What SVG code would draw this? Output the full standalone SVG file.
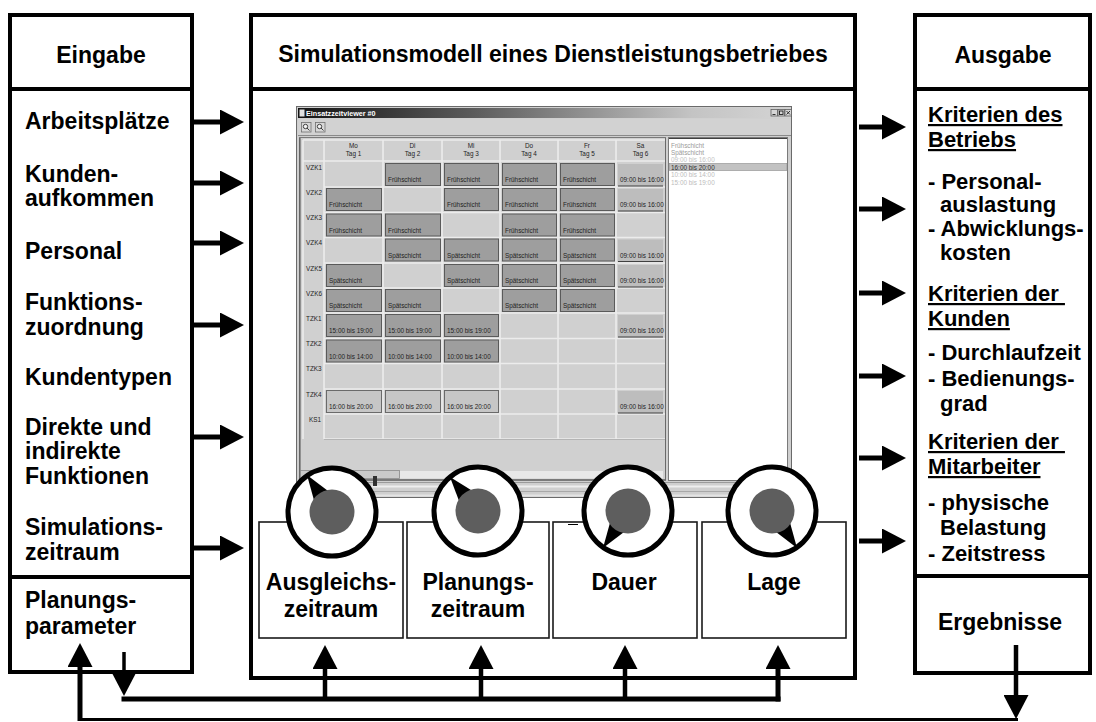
<svg xmlns="http://www.w3.org/2000/svg" width="1096" height="722" viewBox="0 0 1096 722">
  <style>
    .t { font-family: "Liberation Sans", Arial, sans-serif; font-weight: bold; font-size: 23px; fill: #000; }
    .r { font-size: 22px; }
    .c { text-anchor: middle; }
    .u { text-decoration: underline; }
    .frame { fill: #fff; stroke: #000; stroke-width: 4; }
    .sep { stroke: #000; stroke-width: 4; }
    .pbox { fill: #fff; stroke: #1a1a1a; stroke-width: 1.6; }
    .ring { fill: #fff; stroke: #000; stroke-width: 5; }
    .hub { fill: #5e5e5e; }
    .ptr { fill: #000; }
    .conn { stroke: #000; stroke-width: 5; fill: none; }
    .s { font-family: "Liberation Sans", Arial, sans-serif; font-size: 6.4px; fill: #1e1e1e; }
    .hdr { text-anchor: middle; }
    .btn { fill: #9e9e9e; stroke: #5a5a5a; stroke-width: 1; }
    .btnl { fill: #bdbdbd; }
    .btnm { fill: #c6c6c6; stroke: #6a6a6a; stroke-width: 1; }
    .edge { stroke: #404040; stroke-width: 1.2; }
    .gl { stroke: #ececec; stroke-width: 1.6; }
    .li { font-family: "Liberation Sans", Arial, sans-serif; font-size: 6.4px; fill: #a8a8a8; }
  </style>
  <defs>
    <marker id="ah" markerUnits="userSpaceOnUse" markerWidth="24" markerHeight="25" viewBox="0 0 24 25" refX="0" refY="12.5" orient="auto">
      <path d="M0,0 L24,12.5 L0,25 z" fill="#000"/>
    </marker>
    <linearGradient id="titlebar" x1="0" y1="0" x2="1" y2="0">
      <stop offset="0" stop-color="#141414"/>
      <stop offset="0.35" stop-color="#5a5a5a"/>
      <stop offset="0.8" stop-color="#c4c4c4"/>
      <stop offset="1" stop-color="#d4d4d4"/>
    </linearGradient>
  </defs>

  <rect width="1096" height="722" fill="#fff"/>

  <!-- Input column -->
  <g id="eingabe">
    <rect class="frame" x="10" y="15" width="182" height="657"/>
    <line class="sep" x1="10" y1="89" x2="192" y2="89"/>
    <line class="sep" x1="10" y1="577" x2="192" y2="577"/>
    <text class="t c" x="101" y="63">Eingabe</text>
    <text class="t" x="25" y="129">Arbeitsplätze</text>
    <text class="t" x="25" y="182">Kunden-</text>
    <text class="t" x="25" y="206">aufkommen</text>
    <text class="t" x="25" y="259">Personal</text>
    <text class="t" x="25" y="310">Funktions-</text>
    <text class="t" x="25" y="335">zuordnung</text>
    <text class="t" x="25" y="385">Kundentypen</text>
    <text class="t" x="25" y="435">Direkte und</text>
    <text class="t" x="25" y="459">indirekte</text>
    <text class="t" x="25" y="484">Funktionen</text>
    <text class="t" x="25" y="535">Simulations-</text>
    <text class="t" x="25" y="560">zeitraum</text>
    <text class="t" x="25" y="608">Planungs-</text>
    <text class="t" x="25" y="634">parameter</text>
  </g>

  <!-- Simulation model -->
  <g id="modell">
    <rect class="frame" x="251" y="15" width="604" height="663"/>
    <line class="sep" x1="251" y1="89" x2="855" y2="89"/>
    <text class="t c" x="553" y="62">Simulationsmodell eines Dienstleistungsbetriebes</text>
  </g>

  <!-- Schedule viewer window -->
  <g id="viewer">
    <rect x="296.5" y="106.5" width="495" height="391" fill="#cfcfcf" stroke="#6a6a6a"/>
    <rect x="298" y="108" width="493" height="10" fill="url(#titlebar)"/>
    <rect x="299.5" y="109.5" width="5" height="7" fill="#e0e0e0"/>
    <text x="306" y="116" font-family="Liberation Sans, Arial, sans-serif" font-weight="bold" font-size="7.2" fill="#fff">Einsatzzeitviewer #0</text>
    <!-- title buttons -->
    <g fill="#d6d6d6" stroke="#606060" stroke-width="0.8">
      <rect x="771" y="109.5" width="6.5" height="6.5"/>
      <rect x="778" y="109.5" width="6.5" height="6.5"/>
      <rect x="785" y="109.5" width="6.5" height="6.5"/>
    </g>
    <g stroke="#202020" stroke-width="0.9" fill="none">
      <line x1="772.5" y1="114.5" x2="775.5" y2="114.5"/>
      <rect x="779.5" y="111" width="3.5" height="3.5"/>
      <line x1="786.5" y1="111" x2="790" y2="114.5"/>
      <line x1="790" y1="111" x2="786.5" y2="114.5"/>
    </g>
    <!-- toolbar -->
    <rect x="298" y="118.5" width="493" height="17" fill="#d2d2d2"/>
    <line x1="298" y1="135.5" x2="791" y2="135.5" stroke="#8a8a8a"/>
    <g fill="#d8d8d8" stroke="#707070" stroke-width="0.8">
      <rect x="301.5" y="122.5" width="9.5" height="9.5"/>
      <rect x="315.5" y="122.5" width="9.5" height="9.5"/>
    </g>
    <g stroke="#303030" stroke-width="0.9" fill="#f4f4f4">
      <circle cx="305.5" cy="126.5" r="2.2"/>
      <circle cx="319.5" cy="126.5" r="2.2"/>
      <line x1="307" y1="128" x2="309.5" y2="130.5"/>
      <line x1="321" y1="128" x2="323.5" y2="130.5"/>
    </g>

    <!-- grid frame -->
    <rect x="299.5" y="137.5" width="366" height="343" fill="#d0d0d0" stroke="#7a7a7a"/>
    <line x1="300" y1="138" x2="300" y2="480" stroke="#505050"/>
    <!-- grid lines -->
    <g class="gl">
      <line x1="303" y1="140" x2="665" y2="140"/>
      <line x1="303" y1="161" x2="665" y2="161"/>
      <line x1="324" y1="187" x2="665" y2="187"/>
      <line x1="324" y1="212.5" x2="665" y2="212.5"/>
      <line x1="324" y1="237.5" x2="665" y2="237.5"/>
      <line x1="324" y1="263" x2="665" y2="263"/>
      <line x1="324" y1="288" x2="665" y2="288"/>
      <line x1="324" y1="313" x2="665" y2="313"/>
      <line x1="324" y1="338.5" x2="665" y2="338.5"/>
      <line x1="324" y1="363.5" x2="665" y2="363.5"/>
      <line x1="324" y1="389" x2="665" y2="389"/>
      <line x1="324" y1="414" x2="665" y2="414"/>
      <line x1="324" y1="439" x2="665" y2="439"/>
      <line x1="303" y1="140" x2="303" y2="439"/>
      <line x1="324" y1="140" x2="324" y2="439"/>
      <line x1="383" y1="140" x2="383" y2="439"/>
      <line x1="442" y1="140" x2="442" y2="439"/>
      <line x1="500" y1="140" x2="500" y2="439"/>
      <line x1="558" y1="140" x2="558" y2="439"/>
      <line x1="616" y1="140" x2="616" y2="439"/>
    </g>
    <line x1="665.5" y1="138" x2="665.5" y2="480" stroke="#6a6a6a"/>
    <line x1="324" y1="439.5" x2="665" y2="439.5" stroke="#b4b4b4"/>

    <!-- column heads -->
    <g class="s hdr">
      <text x="353.5" y="148">Mo</text><text x="353.5" y="156">Tag 1</text>
      <text x="412.5" y="148">Di</text><text x="412.5" y="156">Tag 2</text>
      <text x="471" y="148">Mi</text><text x="471" y="156">Tag 3</text>
      <text x="529" y="148">Do</text><text x="529" y="156">Tag 4</text>
      <text x="587" y="148">Fr</text><text x="587" y="156">Tag 5</text>
      <text x="640.5" y="148">Sa</text><text x="640.5" y="156">Tag 6</text>
    </g>
    <!-- row heads -->
    <g class="s">
      <text x="306" y="170">VZK1</text>
      <text x="306" y="195">VZK2</text>
      <text x="306" y="220">VZK3</text>
      <text x="306" y="245">VZK4</text>
      <text x="306" y="271">VZK5</text>
      <text x="306" y="296">VZK6</text>
      <text x="306" y="321">TZK1</text>
      <text x="306" y="346">TZK2</text>
      <text x="306" y="371">TZK3</text>
      <text x="306" y="397">TZK4</text>
      <text x="309" y="422">KS1</text>
    </g>

    <!-- shift buttons -->
    <g class="btn">
      <rect x="385.5" y="163.5" width="55" height="22"/>
      <rect x="444.5" y="163.5" width="54" height="22"/>
      <rect x="502.5" y="163.5" width="54" height="22"/>
      <rect x="560.5" y="163.5" width="54" height="22"/>

      <rect x="326.5" y="188.5" width="55" height="22"/>
      <rect x="444.5" y="188.5" width="54" height="22"/>
      <rect x="502.5" y="188.5" width="54" height="22"/>
      <rect x="560.5" y="188.5" width="54" height="22"/>

      <rect x="326.5" y="214" width="55" height="22"/>
      <rect x="385.5" y="214" width="55" height="22"/>
      <rect x="502.5" y="214" width="54" height="22"/>
      <rect x="560.5" y="214" width="54" height="22"/>

      <rect x="385.5" y="239" width="55" height="22"/>
      <rect x="444.5" y="239" width="54" height="22"/>
      <rect x="502.5" y="239" width="54" height="22"/>
      <rect x="560.5" y="239" width="54" height="22"/>

      <rect x="326.5" y="264.5" width="55" height="22"/>
      <rect x="444.5" y="264.5" width="54" height="22"/>
      <rect x="502.5" y="264.5" width="54" height="22"/>
      <rect x="560.5" y="264.5" width="54" height="22"/>

      <rect x="326.5" y="289.5" width="55" height="22"/>
      <rect x="385.5" y="289.5" width="55" height="22"/>
      <rect x="502.5" y="289.5" width="54" height="22"/>
      <rect x="560.5" y="289.5" width="54" height="22"/>

      <rect x="326.5" y="314.5" width="55" height="22"/>
      <rect x="385.5" y="314.5" width="55" height="22"/>
      <rect x="444.5" y="314.5" width="54" height="22"/>

      <rect x="326.5" y="340" width="55" height="22"/>
      <rect x="385.5" y="340" width="55" height="22"/>
      <rect x="444.5" y="340" width="54" height="22"/>
    </g>
    <g class="btnm">
      <rect x="326.5" y="390.5" width="55" height="22"/>
      <rect x="385.5" y="390.5" width="55" height="22"/>
      <rect x="444.5" y="390.5" width="54" height="22"/>
    </g>
    <!-- Saturday time buttons -->
    <g class="btnl">
      <rect x="618" y="164" width="45" height="22"/>
      <rect x="618" y="189" width="45" height="22"/>
      <rect x="618" y="239.5" width="45" height="22"/>
      <rect x="618" y="265" width="45" height="22"/>
      <rect x="618" y="315" width="45" height="22"/>
      <rect x="618" y="391" width="45" height="22"/>
    </g>
    <g class="edge">
      <line x1="618" y1="186" x2="663" y2="186"/>
      <line x1="618" y1="211" x2="663" y2="211"/>
      <line x1="618" y1="261.5" x2="663" y2="261.5"/>
      <line x1="618" y1="287" x2="663" y2="287"/>
      <line x1="618" y1="337" x2="663" y2="337"/>
      <line x1="618" y1="413" x2="663" y2="413"/>
    </g>

    <g class="s">
      <text x="388" y="182">Frühschicht</text>
      <text x="447" y="182">Frühschicht</text>
      <text x="505" y="182">Frühschicht</text>
      <text x="563" y="182">Frühschicht</text>
      <text x="620" y="182">09:00 bis 16:00</text>

      <text x="329" y="207">Frühschicht</text>
      <text x="447" y="207">Frühschicht</text>
      <text x="505" y="207">Frühschicht</text>
      <text x="563" y="207">Frühschicht</text>
      <text x="620" y="207">09:00 bis 16:00</text>

      <text x="329" y="232.5">Frühschicht</text>
      <text x="388" y="232.5">Frühschicht</text>
      <text x="505" y="232.5">Frühschicht</text>
      <text x="563" y="232.5">Frühschicht</text>

      <text x="388" y="257.5">Spätschicht</text>
      <text x="447" y="257.5">Spätschicht</text>
      <text x="505" y="257.5">Spätschicht</text>
      <text x="563" y="257.5">Spätschicht</text>
      <text x="620" y="257.5">09:00 bis 16:00</text>

      <text x="329" y="283">Spätschicht</text>
      <text x="447" y="283">Spätschicht</text>
      <text x="505" y="283">Spätschicht</text>
      <text x="563" y="283">Spätschicht</text>
      <text x="620" y="283">09:00 bis 16:00</text>

      <text x="329" y="308">Spätschicht</text>
      <text x="388" y="308">Spätschicht</text>
      <text x="505" y="308">Spätschicht</text>
      <text x="563" y="308">Spätschicht</text>

      <text x="329" y="333">15:00 bis 19:00</text>
      <text x="388" y="333">15:00 bis 19:00</text>
      <text x="447" y="333">15:00 bis 19:00</text>
      <text x="620" y="333">09:00 bis 16:00</text>

      <text x="329" y="358.5">10:00 bis 14:00</text>
      <text x="388" y="358.5">10:00 bis 14:00</text>
      <text x="447" y="358.5">10:00 bis 14:00</text>

      <text x="329" y="409">16:00 bis 20:00</text>
      <text x="388" y="409">16:00 bis 20:00</text>
      <text x="447" y="409">16:00 bis 20:00</text>
      <text x="620" y="409">09:00 bis 16:00</text>
    </g>

    <!-- horizontal scrollbar -->
    <rect x="300.5" y="470.5" width="99" height="8" fill="#cacaca" stroke="#8a8a8a" stroke-width="0.8"/>
    <rect x="400" y="471" width="263" height="7.5" fill="#e8e8e8"/>
    <line x1="300" y1="479.5" x2="665" y2="479.5" stroke="#7a7a7a"/>

    <!-- shift list -->
    <rect x="668.5" y="137.5" width="119" height="343" fill="#fff" stroke="#7a7a7a"/>
    <line x1="669" y1="138.5" x2="787" y2="138.5" stroke="#404040"/>
    <rect x="669.5" y="163.5" width="117.5" height="7" fill="#c2c2c2" stroke="#8a8a8a" stroke-width="0.6"/>
    <text class="li" x="671" y="147.5" style="fill:#9a9a9a">Frühschicht</text>
    <text class="li" x="671" y="155" style="fill:#9a9a9a">Spätschicht</text>
    <text class="li" x="671" y="162" style="fill:#c4c4c4">09:00 bis 16:00</text>
    <text class="li" x="671" y="169.5" style="fill:#303030">16:00 bis 20:00</text>
    <text class="li" x="671" y="177" style="fill:#bcbcbc">10:00 bis 14:00</text>
    <text class="li" x="671" y="184.5" style="fill:#bcbcbc">15:00 bis 19:00</text>

    <!-- status strip -->
    <line x1="298" y1="482.5" x2="791" y2="482.5" stroke="#9a9a9a"/>
    <line x1="298" y1="486.5" x2="791" y2="486.5" stroke="#eeeeee" stroke-width="2"/>
    <line x1="298" y1="491.5" x2="791" y2="491.5" stroke="#a8a8a8"/>
    <line x1="298" y1="495.5" x2="791" y2="495.5" stroke="#e4e4e4" stroke-width="2"/>
    <rect x="373" y="476" width="4" height="10" fill="#303030"/>
  </g>

  <!-- Planning parameters -->
  <g id="p-ausgleich">
    <rect class="pbox" x="259" y="522" width="144" height="116"/>
    <text class="t c" x="331" y="590">Ausgleichs-</text>
    <text class="t c" x="331" y="617">zeitraum</text>
  </g>
  <g id="p-planung">
    <rect class="pbox" x="407" y="522" width="142" height="116"/>
    <text class="t c" x="478" y="590">Planungs-</text>
    <text class="t c" x="478" y="617">zeitraum</text>
  </g>
  <g id="p-dauer">
    <rect class="pbox" x="553" y="522" width="144" height="116"/>
    <line x1="568" y1="524.5" x2="578" y2="524.5" stroke="#000" stroke-width="1"/>
    <text class="t c" x="624" y="590">Dauer</text>
  </g>
  <g id="p-lage">
    <rect class="pbox" x="702" y="522" width="144" height="116"/>
    <text class="t c" x="774" y="590">Lage</text>
  </g>

  <!-- Dials: ring, pointer wedge, hub -->
  <g id="dial-ausgleich">
    <circle class="ring" cx="332" cy="512" r="44"/>
    <polygon class="ptr" points="307,475 344.5,503.6 319.6,520.4"/>
    <circle class="hub" cx="332" cy="512" r="22.5"/>
  </g>
  <g id="dial-planung">
    <circle class="ring" cx="478" cy="511" r="44"/>
    <polygon class="ptr" points="450,477 489.6,501.5 466.4,520.5"/>
    <circle class="hub" cx="478" cy="511" r="22.5"/>
  </g>
  <g id="dial-dauer">
    <circle class="ring" cx="628" cy="511" r="44"/>
    <polygon class="ptr" points="603,548 640.5,519.4 615.6,502.6"/>
    <circle class="hub" cx="628" cy="511" r="22.5"/>
  </g>
  <g id="dial-lage">
    <circle class="ring" cx="772" cy="511" r="44"/>
    <polygon class="ptr" points="797,548 784.5,502.6 759.6,519.4"/>
    <circle class="hub" cx="772" cy="511" r="22.5"/>
  </g>

  <!-- Output column -->
  <g id="ausgabe">
    <rect class="frame" x="915" y="15" width="175" height="658"/>
    <line class="sep" x1="915" y1="89" x2="1090" y2="89"/>
    <line class="sep" x1="915" y1="576" x2="1090" y2="576"/>
    <text class="t c" x="1003" y="63">Ausgabe</text>
    <text class="t r u" x="928" y="122">Kriterien des</text>
    <text class="t r u" x="928" y="147">Betriebs</text>
    <text class="t r" x="928" y="189">- Personal-</text>
    <text class="t r" x="940" y="212">auslastung</text>
    <text class="t r" x="928" y="236">- Abwicklungs-</text>
    <text class="t r" x="940" y="260">kosten</text>
    <text class="t r u" x="928" y="301">Kriterien der&#160;</text>
    <text class="t r u" x="928" y="326">Kunden</text>
    <text class="t r" x="928" y="360">- Durchlaufzeit</text>
    <text class="t r" x="928" y="386">- Bedienungs-</text>
    <text class="t r" x="940" y="411">grad</text>
    <text class="t r u" x="928" y="449">Kriterien der&#160;</text>
    <text class="t r u" x="928" y="474">Mitarbeiter</text>
    <text class="t r" x="928" y="510">- physische</text>
    <text class="t r" x="940" y="535">Belastung</text>
    <text class="t r" x="928" y="561">- Zeitstress</text>
    <text class="t c" x="1000" y="630">Ergebnisse</text>
  </g>

  <!-- Connectors -->
  <g id="connectors" class="conn">
    <!-- inputs into the model -->
    <line x1="192" y1="122" x2="220" y2="122" marker-end="url(#ah)"/>
    <line x1="192" y1="183" x2="220" y2="183" marker-end="url(#ah)"/>
    <line x1="192" y1="243" x2="220" y2="243" marker-end="url(#ah)"/>
    <line x1="192" y1="325" x2="220" y2="325" marker-end="url(#ah)"/>
    <line x1="192" y1="437" x2="220" y2="437" marker-end="url(#ah)"/>
    <line x1="192" y1="548" x2="220" y2="548" marker-end="url(#ah)"/>
    <!-- model results -->
    <line x1="859" y1="127" x2="882" y2="127" marker-end="url(#ah)"/>
    <line x1="859" y1="209" x2="882" y2="209" marker-end="url(#ah)"/>
    <line x1="859" y1="293" x2="882" y2="293" marker-end="url(#ah)"/>
    <line x1="859" y1="376" x2="882" y2="376" marker-end="url(#ah)"/>
    <line x1="859" y1="458" x2="882" y2="458" marker-end="url(#ah)"/>
    <line x1="859" y1="541" x2="882" y2="541" marker-end="url(#ah)"/>
    <!-- planning parameter bus -->
    <line x1="124" y1="652" x2="124" y2="672" stroke-width="3.5" marker-end="url(#ah)"/>
    <line x1="121.5" y1="699" x2="780.5" y2="699"/>
    <line x1="325" y1="701" x2="325" y2="669" stroke-width="4.5" marker-end="url(#ah)"/>
    <line x1="481" y1="701" x2="481" y2="669" stroke-width="4.5" marker-end="url(#ah)"/>
    <line x1="625" y1="701" x2="625" y2="669" stroke-width="4.5" marker-end="url(#ah)"/>
    <line x1="778" y1="701.5" x2="778" y2="669" marker-end="url(#ah)"/>
    <!-- feedback loop from results -->
    <line x1="1016" y1="645" x2="1016" y2="695" stroke-width="4.5" marker-end="url(#ah)"/>
    <line x1="78" y1="719.5" x2="1018" y2="719.5" stroke-width="3"/>
    <line x1="80" y1="721" x2="80" y2="667" marker-end="url(#ah)"/>
  </g>
</svg>
